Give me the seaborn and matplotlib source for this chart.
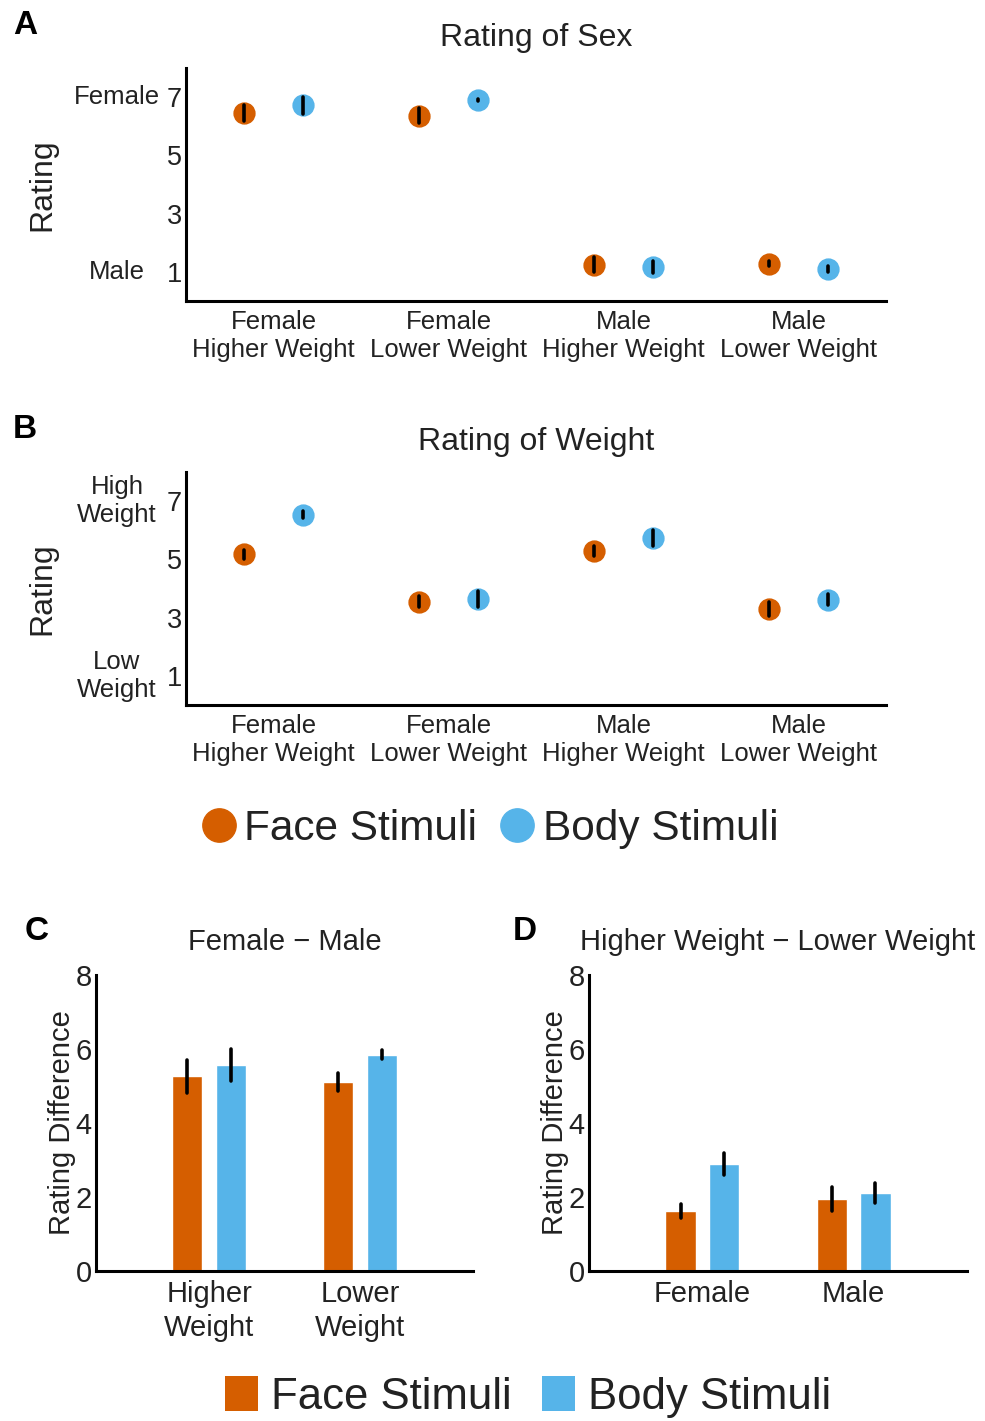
import numpy as np
import pandas as pd
import matplotlib
matplotlib.use("Agg")
import matplotlib.pyplot as plt
from matplotlib.lines import Line2D
from matplotlib.patches import Patch
import seaborn as sns

# ---------------- data ----------------
stim_levels = ["Face Stimuli", "Body Stimuli"]
face_color = "#D55E00"
body_color = "#56B4E9"

cats_ab = ["Female\nHigher Weight", "Female\nLower Weight",
           "Male\nHigher Weight", "Male\nLower Weight"]

sex_face = [6.47, 6.37, 1.24, 1.28]
sex_face_err = [0.27, 0.26, 0.25, 0.10]
sex_body = [6.72, 6.91, 1.16, 1.08]
sex_body_err = [0.29, 0.03, 0.22, 0.10]

weight_face = [5.17, 3.55, 5.28, 3.31]
weight_face_err = [0.16, 0.20, 0.18, 0.24]
weight_body = [6.53, 3.64, 5.73, 3.62]
weight_body_err = [0.11, 0.26, 0.26, 0.19]

cats_c = ["Higher\nWeight", "Lower\nWeight"]
sexdiff_face = [5.26, 5.11]
sexdiff_face_err = [0.45, 0.25]
sexdiff_body = [5.57, 5.85]
sexdiff_body_err = [0.44, 0.13]

cats_d = ["Female", "Male"]
wdiff_face = [1.62, 1.95]
wdiff_face_err = [0.18, 0.32]
wdiff_body = [2.90, 2.12]
wdiff_body_err = [0.30, 0.27]


def long_table(cats, face, face_err, body, body_err):
    rows = []
    for stim, vals, errs in [(stim_levels[0], face, face_err),
                             (stim_levels[1], body, body_err)]:
        for c, v, e in zip(cats, vals, errs):
            rows.append((c, stim, v - e))
            rows.append((c, stim, v + e))
    return pd.DataFrame(rows, columns=["cat", "stim", "val"])


def minmax(v):
    return (np.min(v), np.max(v))


# ---------------- style ----------------
sns.set_style("white")
plt.rcParams["font.family"] = ["Liberation Sans", "DejaVu Sans"]
TXT = "#222222"
plt.rcParams["text.color"] = TXT
plt.rcParams["axes.labelcolor"] = TXT
plt.rcParams["xtick.color"] = TXT
plt.rcParams["ytick.color"] = TXT

palette = {stim_levels[0]: face_color, stim_levels[1]: body_color}

fig = plt.figure(figsize=(9.85, 14.21), dpi=100)
W, H = 985.0, 1421.0


def axes_px(x0, x1, ytop, ybot):
    return fig.add_axes([x0 / W, 1 - ybot / H, (x1 - x0) / W, (ybot - ytop) / H])


axA = axes_px(186, 886, 68.2, 300.8)
axB = axes_px(186, 886, 471.8, 705.2)
axC = axes_px(96, 473, 975, 1271)
axD = axes_px(589, 967, 975, 1271)


def style_axes(ax, fs):
    for s in ["top", "right"]:
        ax.spines[s].set_visible(False)
    for s in ["left", "bottom"]:
        ax.spines[s].set_linewidth(2.2)
        ax.spines[s].set_color("black")
    ax.tick_params(axis="y", direction="in", length=5, width=2.2,
                   color="black", labelsize=fs, pad=3)
    ax.tick_params(axis="x", length=0, labelsize=fs, pad=6.5)


# ---------------- panels A & B ----------------
def point_panel(ax, face, face_err, body, body_err, title, toplab, botlab):
    df = long_table(cats_ab, face, face_err, body, body_err)
    sns.pointplot(data=df, x="cat", y="val", hue="stim", order=cats_ab,
                  hue_order=stim_levels, palette=palette, estimator="mean",
                  errorbar=minmax, dodge=0.333, linestyle="none", markers="o",
                  markersize=14, err_kws={"color": "black", "linewidth": 2.6,
                                          "zorder": 6},
                  legend=False, ax=ax)
    ax.set_xlim(-0.5, 3.5)
    ax.set_ylim(0, 8)
    ax.set_yticks([1, 2, 3, 4, 5, 6, 7])
    ax.set_yticklabels(["1", "", "3", "", "5", "", "7"])
    style_axes(ax, 18.5)
    ax.tick_params(axis="y", labelsize=19.5)
    for t in ax.get_xticklabels():
        t.set_linespacing(1.22)
    ax.set_xlabel("")
    ax.set_ylabel("Rating", fontsize=23)
    ax.yaxis.set_label_coords((57 - 186) / 700, 0.5)
    ax.set_title(title, fontsize=23, pad=16, color=TXT)
    tr = ax.get_yaxis_transform()
    xo = (117 - 186) / 700
    ax.text(xo, 7, toplab, transform=tr, ha="center", va="center",
            fontsize=18.5, linespacing=1.22)
    ax.text(xo, 1, botlab, transform=tr, ha="center", va="center",
            fontsize=18.5, linespacing=1.22)


point_panel(axA, sex_face, sex_face_err, sex_body, sex_body_err,
            "Rating of Sex", "Female", "Male")
point_panel(axB, weight_face, weight_face_err, weight_body, weight_body_err,
            "Rating of Weight", "High\nWeight", "Low\nWeight")


# ---------------- panels C & D ----------------
def bar_panel(ax, cats, face, face_err, body, body_err, title):
    df = long_table(cats, face, face_err, body, body_err)
    sns.barplot(data=df, x="cat", y="val", hue="stim", order=cats,
                hue_order=stim_levels, palette=palette, estimator="mean",
                errorbar=minmax, width=0.576, gap=0.305, saturation=1,
                err_kws={"color": "black", "linewidth": 2.6}, capsize=0,
                legend=False, ax=ax)
    ax.set_xlim(-0.75, 1.75)
    ax.set_ylim(0, 8)
    ax.set_yticks(range(0, 9))
    ax.set_yticklabels([str(i) if i % 2 == 0 else "" for i in range(9)])
    style_axes(ax, 21)
    for t in ax.get_xticklabels():
        t.set_linespacing(1.25)
    ax.set_xlabel("")
    ax.set_ylabel("Rating Difference", fontsize=21)
    ax.yaxis.set_label_coords(-0.052, 0.5)
    ax.set_title(title, fontsize=21, pad=18, color=TXT)


bar_panel(axC, cats_c, sexdiff_face, sexdiff_face_err, sexdiff_body,
          sexdiff_body_err, "Female \u2212 Male")
bar_panel(axD, cats_d, wdiff_face, wdiff_face_err, wdiff_body,
          wdiff_body_err, "Higher Weight \u2212 Lower Weight")

# ---------------- legends ----------------
circ = [Line2D([], [], marker="o", linestyle="none", color=face_color,
               markersize=24),
        Line2D([], [], marker="o", linestyle="none", color=body_color,
               markersize=24)]
fig.legend(handles=circ, labels=stim_levels, loc="center",
           bbox_to_anchor=(490 / W, 1 - 829 / H), ncol=2, frameon=False,
           fontsize=30.5, handletextpad=0.2, columnspacing=0.55,
           handlelength=0.8, borderpad=0)

sq = [Patch(facecolor=face_color, edgecolor="none"),
      Patch(facecolor=body_color, edgecolor="none")]
fig.legend(handles=sq, labels=stim_levels, loc="center",
           bbox_to_anchor=(528 / W, 1 - 1397 / H), ncol=2, frameon=False,
           fontsize=31.5, handletextpad=0.3, columnspacing=0.7,
           handlelength=0.75, handleheight=0.86, borderpad=0)

# ---------------- panel letters ----------------
for letter, x, y in [("A", 25, 25), ("B", 25, 430), ("C", 37, 932),
                     ("D", 525, 932)]:
    fig.text(x / W, 1 - y / H, letter, fontsize=24, fontweight="bold",
             ha="center", va="center", color="black")

fig.savefig("out.png", dpi=100)
